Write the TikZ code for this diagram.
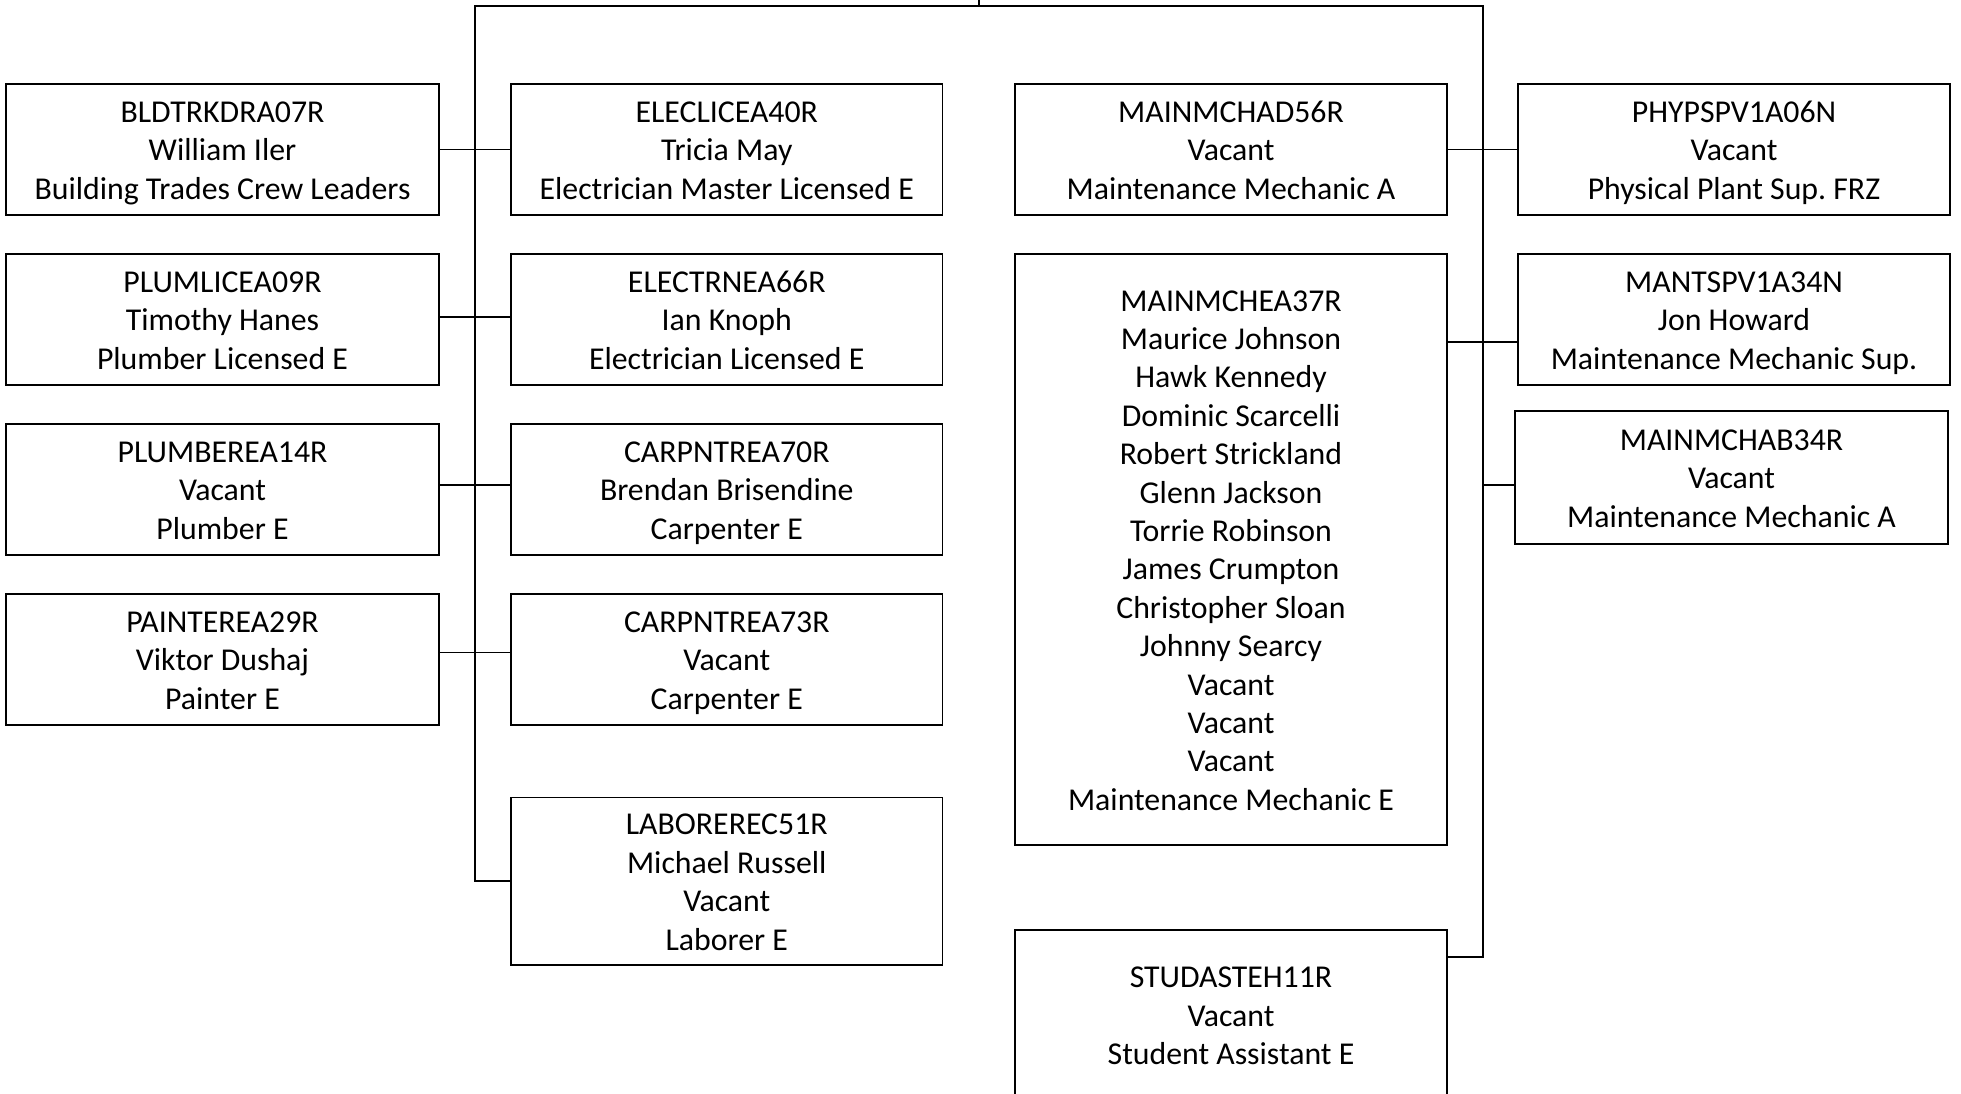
\documentclass[tikz,border=0pt]{standalone}
\usepackage{fontspec}
\setmainfont{Carlito}
\frenchspacing
\newcommand\ms{\rule[-8pt]{0pt}{38.4pt}}
\begin{document}
\begin{tikzpicture}[x=1pt,y=-1pt,
  box/.style={draw=black,line width=1.8pt,inner sep=0pt,align=center,
    minimum height=131pt,font=\fontsize{31.8}{38.4}\selectfont},
  wL/.style={minimum width=433pt},
  wM/.style={minimum width=431.5pt},
  wR/.style={minimum width=432pt},
  conn/.style={line width=1.9pt,line join=miter}]
\useasboundingbox (0,0) rectangle (1961,1094);
\clip (0,0) rectangle (1961,1094);
% left column
\node[box,wL] (B1) at (222.5,149.5) {\ms BLDTRKDRA07R\\\ms William Iler\\\ms Building Trades Crew Leaders};
\node[box,wL] (B2) at (222.5,319.5) {\ms PLUMLICEA09R\\\ms Timothy Hanes\\\ms Plumber Licensed E};
\node[box,wL] (B3) at (222.5,489.5) {\ms PLUMBEREA14R\\\ms Vacant\\\ms Plumber E};
\node[box,wL] (B4) at (222.5,659.5) {\ms PAINTEREA29R\\\ms Viktor Dushaj\\\ms Painter E};
% second column
\node[box,wM] (C1) at (726.75,149.5) {\ms ELECLICEA40R\\\ms Tricia May\\\ms Electrician Master Licensed E};
\node[box,wM] (C2) at (726.75,319.5) {\ms ELECTRNEA66R\\\ms Ian Knoph\\\ms Electrician Licensed E};
\node[box,wM] (C3) at (726.75,489.5) {\ms CARPNTREA70R\\\ms Brendan Brisendine\\\ms Carpenter E};
\node[box,wM] (C4) at (726.75,659.5) {\ms CARPNTREA73R\\\ms Vacant\\\ms Carpenter E};
\node[box,wM,minimum height=167.5pt] (C5) at (726.75,881.25) {\ms LABOREREC51R\\\ms Michael Russell\\\ms Vacant\\\ms Laborer E};
% third column
\node[box,wR] (D1) at (1231,149.5) {\ms MAINMCHAD56R\\\ms Vacant\\\ms Maintenance Mechanic A};
\node[box,wR,minimum height=591pt] (D2) at (1231,549.5) {\ms MAINMCHEA37R\\\ms Maurice Johnson\\\ms Hawk Kennedy\\\ms Dominic Scarcelli\\\ms Robert Strickland\\\ms Glenn Jackson\\\ms Torrie Robinson\\\ms James Crumpton\\\ms Christopher Sloan\\\ms Johnny Searcy\\\ms Vacant\\\ms Vacant\\\ms Vacant\\\ms Maintenance Mechanic E};
\node[box,wR,minimum height=170pt] (D3) at (1231,1015) {\ms STUDASTEH11R\\\ms Vacant\\\ms Student Assistant E};
% fourth column
\node[box,wR] (E1) at (1734,149.5) {\ms PHYPSPV1A06N\\\ms Vacant\\\ms Physical Plant Sup. FRZ};
\node[box,wR] (E2) at (1734,319.5) {\ms MANTSPV1A34N\\\ms Jon Howard\\\ms Maintenance Mechanic Sup.};
\node[box,minimum width=433pt,minimum height=133pt] (E3) at (1731.5,477.5) {\ms MAINMCHAB34R\\\ms Vacant\\\ms Maintenance Mechanic A};
% trunk coordinates
\coordinate (top) at (979,0);
\coordinate (tl) at (475,5.7);
\coordinate (tr) at (1483,5.7);
\coordinate (tm) at (979,5.7);
\coordinate (l1) at (475,149.5);
\coordinate (l2) at (475,317);
\coordinate (l3) at (475,485);
\coordinate (l4) at (475,652.5);
\coordinate (l5) at (475,881.25);
\coordinate (r1) at (1483,149.5);
\coordinate (r2) at (1483,342);
\coordinate (r3) at (1483,485);
\coordinate (r4) at (1483,957);
% trunks
\draw[conn] (top) -- (tm);
\draw[conn] (C5.west |- l5) -- (l5) -- (tl) -- (tr) -- (r4) -- (D3.east |- r4);
% left branches
\draw[conn] (B1.east |- l1) -- (C1.west |- l1);
\draw[conn] (B2.east |- l2) -- (C2.west |- l2);
\draw[conn] (B3.east |- l3) -- (C3.west |- l3);
\draw[conn] (B4.east |- l4) -- (C4.west |- l4);
% right branches
\draw[conn] (D1.east |- r1) -- (E1.west |- r1);
\draw[conn] (D2.east |- r2) -- (E2.west |- r2);
\draw[conn] (r3) -- (E3.west |- r3);
\end{tikzpicture}
\end{document}
